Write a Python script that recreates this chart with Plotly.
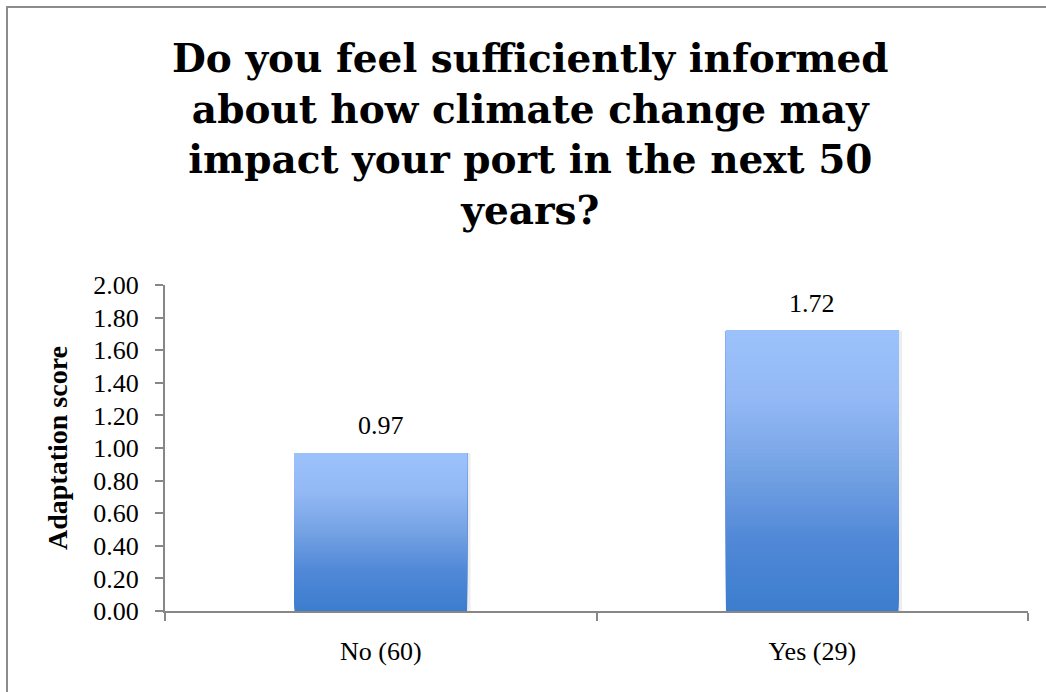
import plotly.graph_objects as go

# Survey groups and mean adaptation scores
categories = ["No (60)", "Yes (29)"]
scores = [0.97, 1.72]
y_ticks = [0.0, 0.2, 0.4, 0.6, 0.8, 1.0, 1.2, 1.4, 1.6, 1.8, 2.0]
title_text = ("Do you feel sufficiently informed<br>about how climate change may<br>"
              "impact your port in the next 50<br>years?")
y_title = "Adaptation score"

W, H = 1046, 692
L, R, T, B = 165, 18, 285, 81
plot_w = W - L - R
plot_h = H - T - B

FONT = "Liberation Serif"
TITLE_FONT = "DejaVu Serif"
AXIS_GREY = "#878787"

# Vertical gradient stops (0 = bottom of the bar, 1 = top)
stops = [(0.0, (61, 125, 206)), (0.25, (80, 136, 215)), (0.5, (116, 162, 228)),
         (0.75, (147, 184, 245)), (1.0, (156, 194, 251))]


def grad_color(t):
    for (t0, c0), (t1, c1) in zip(stops[:-1], stops[1:]):
        if t0 <= t <= t1:
            f = (t - t0) / (t1 - t0)
            c = [round(a + (b - a) * f) for a, b in zip(c0, c1)]
            return "rgb({},{},{})".format(*c)
    return "rgb({},{},{})".format(*stops[-1][1])


fig = go.Figure()

# Soft drop shadow behind each bar
fig.add_trace(go.Bar(
    x=categories, y=scores, base=0, width=0.408, offset=-0.2,
    marker=dict(color="rgba(0,0,0,0.07)", line=dict(width=0)),
    hoverinfo="skip", showlegend=False,
))

# Gradient fill: slice i runs from its own start up to the bar top, and each
# following slice is painted over it, so no seams appear between slices
N = 80
for i in range(N):
    fig.add_trace(go.Bar(
        x=categories,
        y=[v * (1 - i / N) for v in scores],
        base=[v * i / N for v in scores],
        width=0.4,
        marker=dict(color=grad_color((i + 0.5) / N), line=dict(width=0)),
        hoverinfo="skip", showlegend=False,
    ))

# Value labels above the bars
for cat, val in zip(categories, scores):
    fig.add_annotation(
        x=cat, y=val, text=f"{val:.2f}", showarrow=False,
        yanchor="bottom", yshift=11,
        font=dict(family=FONT, size=26, color="#000000"),
    )

# Rotated y-axis title
fig.add_annotation(
    xref="paper", yref="paper", x=(57 - L) / plot_w, y=0.5,
    text=f"<b>{y_title}</b>", textangle=-90, showarrow=False,
    xanchor="center", yanchor="middle",
    font=dict(family=FONT, size=28, color="#000000"),
)

# Chart-area frame
fig.add_shape(
    type="rect", xref="paper", yref="paper",
    x0=(7 - L) / plot_w, x1=(W + 20 - L) / plot_w,
    y0=(T + plot_h - (H + 20)) / plot_h, y1=(T + plot_h - 7) / plot_h,
    line=dict(color="#8c8c8c", width=2), fillcolor="rgba(0,0,0,0)", layer="below",
)

fig.update_layout(
    width=W, height=H,
    margin=dict(l=L, r=R, t=T, b=B),
    barmode="overlay",
    plot_bgcolor="white", paper_bgcolor="white",
    title=dict(
        text=f"<b>{title_text}</b>", x=0.507, xanchor="center",
        y=1 - 72 / H, yanchor="top", yref="container",
        font=dict(family=TITLE_FONT, size=39, color="#000000"),
    ),
    showlegend=False,
)

fig.update_xaxes(
    showline=True, linecolor=AXIS_GREY, linewidth=2,
    ticks="outside", tickson="boundaries", ticklen=8, tickwidth=2, tickcolor=AXIS_GREY,
    tickfont=dict(family=FONT, size=26, color="#000000"),
    ticklabelstandoff=16, showgrid=False, zeroline=False,
)

fig.update_yaxes(
    range=[0, 2], tickvals=y_ticks, ticktext=[f"{v:.2f}" for v in y_ticks],
    showline=True, linecolor=AXIS_GREY, linewidth=2,
    ticks="outside", ticklen=8, tickwidth=2, tickcolor=AXIS_GREY,
    tickfont=dict(family=FONT, size=26, color="#000000"),
    ticklabelstandoff=11, showgrid=False, zeroline=False,
)

fig.write_html("out.html")
